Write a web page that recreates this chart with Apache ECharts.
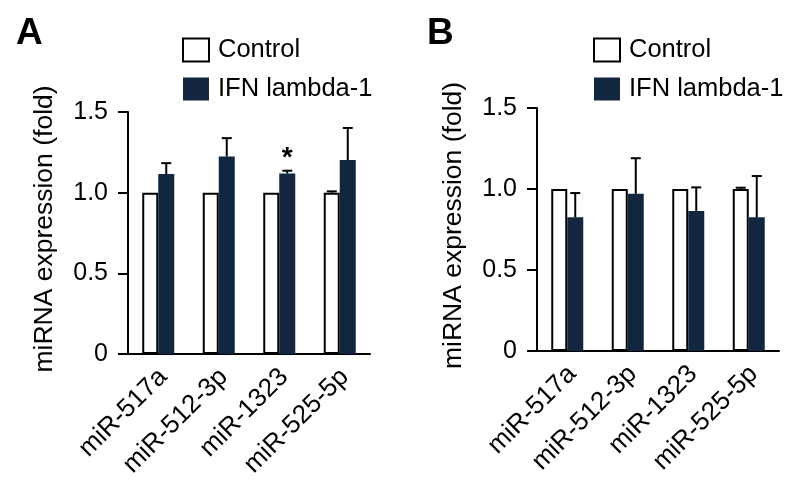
<!DOCTYPE html>
<html>
<head>
<meta charset="utf-8">
<script src="https://cdn.jsdelivr.net/npm/echarts@6/dist/echarts.min.js"></script>
<style>html,body{margin:0;padding:0;background:#fff;}#c{width:800px;height:490px;}</style>
</head>
<body>
<div id="c"></div>
<script>
var categories = ['miR-517a', 'miR-512-3p', 'miR-1323', 'miR-525-5p'];
var yTicks = [0, 0.5, 1.0, 1.5];
// Panel A
var controlA = [1.0, 1.0, 1.0, 1.0];
var controlErrTopA = [1.0, 1.0, 1.0, 1.008];
var ifnA = [1.115, 1.224, 1.119, 1.202];
var ifnErrTopA = [1.183, 1.338, 1.136, 1.401];
var signifA = ['', '', '*', ''];
// Panel B
var controlB = [1.0, 1.0, 1.0, 1.0];
var controlErrTopB = [1.0, 1.0, 1.0, 1.008];
var ifnB = [0.825, 0.97, 0.864, 0.825];
var ifnErrTopB = [0.975, 1.19, 1.01, 1.08];
var signifB = ['', '', '', ''];

var FONT = 'Liberation Sans, Arial, sans-serif';
var NAVY = '#13263f';
var BAR_W = 16;

function errData(vals, tops, marks) {
  return vals.map(function (v, i) { return [i, v, tops[i], marks ? marks[i] : '']; });
}
function errRender(offset) {
  return function (params, api) {
    var v = api.value(1), t = api.value(2);
    var mark = api.value(3);
    var children = [];
    var p0 = api.coord([api.value(0), v]);
    var p1 = api.coord([api.value(0), t]);
    var x = p0[0] + offset;
    if (t > v + 1e-9) {
      children.push({type: 'line', shape: {x1: x, y1: p0[1], x2: x, y2: p1[1]}, style: {stroke: '#000', lineWidth: 2}});
      children.push({type: 'line', shape: {x1: x - 5, y1: p1[1], x2: x + 5, y2: p1[1]}, style: {stroke: '#000', lineWidth: 2}});
    }
    if (mark) {
      children.push({type: 'text', x: x, y: p1[1] - 12, style: {text: mark, fill: '#000', font: 'bold 28px ' + FONT, textAlign: 'center', textVerticalAlign: 'middle'}});
    }
    return {type: 'group', children: children};
  };
}

function yAxis(gi) {
  return {
    type: 'value', gridIndex: gi, min: 0, max: 1.5, interval: 0.5,
    name: 'miRNA expression (fold)', nameLocation: 'middle', nameGap: 70,
    nameTextStyle: {fontSize: 26.5, color: '#000', fontFamily: FONT, padding: [0, 0, 0, 8]},
    axisLine: {show: true, lineStyle: {color: '#000', width: 2}},
    axisTick: {show: true, length: 10, lineStyle: {color: '#000', width: 2}},
    axisLabel: {fontSize: 25, color: '#000', fontFamily: FONT, margin: 20,
      formatter: function (v) { return v === 0 ? '0' : v.toFixed(1); }},
    splitLine: {show: false}
  };
}
function xAxis(gi) {
  return {
    type: 'category', gridIndex: gi, data: categories,
    axisLine: {show: true, lineStyle: {color: '#000', width: 2}},
    axisTick: {show: false},
    axisLabel: {rotate: 45, fontSize: 26, color: '#000', fontFamily: FONT, margin: 14, interval: 0,
      verticalAlign: 'top', lineHeight: 14}
  };
}
function legend(left) {
  return {
    left: left, top: 32, orient: 'vertical', icon: 'rect',
    itemWidth: 26, itemHeight: 23, itemGap: 13,
    data: ['Control', 'IFN lambda-1'],
    textStyle: {fontSize: 25.5, color: '#000', fontFamily: FONT, padding: [0, 0, 0, 4]},
    selectedMode: false
  };
}
function bars(gi, ctrl, ifn, ctrlTop, ifnTop, marks) {
  return [
    {name: 'Control', type: 'bar', xAxisIndex: gi, yAxisIndex: gi, data: ctrl, barWidth: BAR_W, barGap: '0%',
      itemStyle: {color: '#fff', borderColor: '#000', borderWidth: 2}},
    {name: 'IFN lambda-1', type: 'bar', xAxisIndex: gi, yAxisIndex: gi, data: ifn, barWidth: BAR_W, barGap: '0%',
      itemStyle: {color: NAVY}},
    {type: 'custom', xAxisIndex: gi, yAxisIndex: gi, data: errData(ctrl, ctrlTop), renderItem: errRender(-BAR_W / 2), z: 5, silent: true},
    {type: 'custom', xAxisIndex: gi, yAxisIndex: gi, data: errData(ifn, ifnTop, marks), renderItem: errRender(BAR_W / 2), z: 5, silent: true}
  ];
}

var chart = echarts.init(document.getElementById('c'), null, {renderer: 'canvas'});
chart.setOption({
  animation: false,
  backgroundColor: '#fff',
  title: [
    {text: 'A', left: 11, top: 10, textStyle: {fontSize: 37, fontWeight: 'bold', color: '#000', fontFamily: FONT}},
    {text: 'B', left: 422, top: 10, textStyle: {fontSize: 37, fontWeight: 'bold', color: '#000', fontFamily: FONT}}
  ],
  legend: [legend(177), legend(588)],
  grid: [
    {left: 128, top: 112, width: 242, height: 242},
    {left: 537, top: 108, width: 242, height: 243}
  ],
  xAxis: [xAxis(0), xAxis(1)],
  yAxis: [yAxis(0), yAxis(1)],
  series: bars(0, controlA, ifnA, controlErrTopA, ifnErrTopA, signifA)
    .concat(bars(1, controlB, ifnB, controlErrTopB, ifnErrTopB, signifB))
});
</script>
</body>
</html>
